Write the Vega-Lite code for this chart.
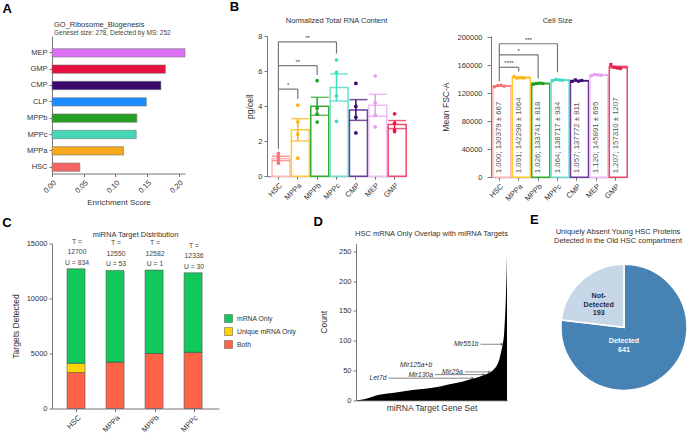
{
  "$schema": "https://vega.github.io/schema/vega-lite/v6.json",
  "background": "white",
  "padding": {"left": 2, "top": 1, "right": 0, "bottom": 0},
  "config": {
    "view": {"stroke": null},
    "font": "Liberation Sans",
    "axis": {"labelFontSize": 7.5, "labelColor": "#333", "titleFontSize": 8.5, "titleFontWeight": "normal", "titleColor": "#333", "domainColor": "#777", "tickColor": "#777", "tickSize": 3, "labelPadding": 2, "grid": false},
    "title": {"fontSize": 7.5, "fontWeight": "normal", "color": "#333", "subtitleColor": "#444"},
    "legend": {"labelFontSize": 6.8, "labelColor": "#333"}
  },
  "datasets": {
    "ribo": [
      {"cell": "MEP", "es": 0.210}, {"cell": "GMP", "es": 0.179}, {"cell": "CMP", "es": 0.172}, {"cell": "CLP", "es": 0.149},
      {"cell": "MPPb", "es": 0.134}, {"cell": "MPPc", "es": 0.133}, {"cell": "MPPa", "es": 0.113}, {"cell": "HSC", "es": 0.044}
    ],
    "rna": [
      {"cell": "HSC", "v": 1.30}, {"cell": "HSC", "v": 1.12}, {"cell": "HSC", "v": 0.90}, {"cell": "HSC", "v": 0.74},
      {"cell": "MPPa", "v": 4.05}, {"cell": "MPPa", "v": 3.10}, {"cell": "MPPa", "v": 2.40}, {"cell": "MPPa", "v": 1.03},
      {"cell": "MPPb", "v": 5.45}, {"cell": "MPPb", "v": 3.88}, {"cell": "MPPb", "v": 3.54}, {"cell": "MPPb", "v": 3.09},
      {"cell": "MPPc", "v": 6.63}, {"cell": "MPPc", "v": 5.92}, {"cell": "MPPc", "v": 4.58}, {"cell": "MPPc", "v": 3.13},
      {"cell": "CMP", "v": 5.29}, {"cell": "CMP", "v": 3.98}, {"cell": "CMP", "v": 3.37}, {"cell": "CMP", "v": 2.47},
      {"cell": "MEP", "v": 5.73}, {"cell": "MEP", "v": 4.18}, {"cell": "MEP", "v": 3.47}, {"cell": "MEP", "v": 2.81},
      {"cell": "GMP", "v": 3.56}, {"cell": "GMP", "v": 3.02}, {"cell": "GMP", "v": 2.65}, {"cell": "GMP", "v": 2.55}
    ],
    "bl_h": [{"from": "HSC", "to": "MPPa", "y": 4.97}, {"from": "HSC", "to": "MPPb", "y": 6.31}, {"from": "HSC", "to": "MPPc", "y": 7.67}],
    "bl_v": [{"cell": "HSC", "y": 7.67, "y2": 1.55}, {"cell": "MPPa", "y": 4.97, "y2": 4.41}, {"cell": "MPPb", "y": 6.31, "y2": 5.78}, {"cell": "MPPc", "y": 7.67, "y2": 7.0}],
    "bl_sg": [{"after": "HSC", "y": 4.97, "s": "*"}, {"after": "MPPa", "y": 7.67, "s": "**"}],
    "bl_sc": [{"at": "MPPa", "y": 6.31, "s": "**"}],
    "cs": [
      {"cell": "HSC", "mean": 130379, "label": "1.000; 130379 ± 667"},
      {"cell": "MPPa", "mean": 142298, "label": "1.091; 142298 ± 1064"},
      {"cell": "MPPb", "mean": 133741, "label": "1.026; 133741 ± 818"},
      {"cell": "MPPc", "mean": 138717, "label": "1.064; 138717 ± 934"},
      {"cell": "CMP", "mean": 137772, "label": "1.057; 137772 ± 811"},
      {"cell": "MEP", "mean": 145891, "label": "1.120; 145891 ± 695"},
      {"cell": "GMP", "mean": 157310, "label": "1.207; 157310 ± 1207"}
    ],
    "csp": [
      {"cell": "HSC", "rep": 1, "v": 129300}, {"cell": "HSC", "rep": 2, "v": 130800}, {"cell": "HSC", "rep": 3, "v": 131400}, {"cell": "HSC", "rep": 4, "v": 130000},
      {"cell": "MPPa", "rep": 1, "v": 143800}, {"cell": "MPPa", "rep": 2, "v": 141500}, {"cell": "MPPa", "rep": 3, "v": 142200}, {"cell": "MPPa", "rep": 4, "v": 141700},
      {"cell": "MPPb", "rep": 1, "v": 132800}, {"cell": "MPPb", "rep": 2, "v": 133900}, {"cell": "MPPb", "rep": 3, "v": 134400}, {"cell": "MPPb", "rep": 4, "v": 133860},
      {"cell": "MPPc", "rep": 1, "v": 137800}, {"cell": "MPPc", "rep": 2, "v": 139700}, {"cell": "MPPc", "rep": 3, "v": 138900}, {"cell": "MPPc", "rep": 4, "v": 138470},
      {"cell": "CMP", "rep": 1, "v": 136800}, {"cell": "CMP", "rep": 2, "v": 139000}, {"cell": "CMP", "rep": 3, "v": 137200}, {"cell": "CMP", "rep": 4, "v": 138090},
      {"cell": "MEP", "rep": 1, "v": 145000}, {"cell": "MEP", "rep": 2, "v": 146600}, {"cell": "MEP", "rep": 3, "v": 146300}, {"cell": "MEP", "rep": 4, "v": 145660},
      {"cell": "GMP", "rep": 1, "v": 161000}, {"cell": "GMP", "rep": 2, "v": 157000}, {"cell": "GMP", "rep": 3, "v": 156000}, {"cell": "GMP", "rep": 4, "v": 155240}
    ],
    "br_h": [{"from": "HSC", "to": "MPPa", "y": 157000}, {"from": "HSC", "to": "MPPb", "y": 174800}, {"from": "HSC", "to": "MPPc", "y": 190600}],
    "br_v": [{"cell": "HSC", "y": 190600, "y2": 137000}, {"cell": "MPPa", "y": 157000, "y2": 151000}, {"cell": "MPPb", "y": 174800, "y2": 141000}, {"cell": "MPPc", "y": 190600, "y2": 150000}],
    "br_sg": [{"after": "HSC", "y": 157000, "s": "****"}, {"after": "MPPa", "y": 190600, "s": "***"}],
    "br_sc": [{"at": "MPPa", "y": 174800, "s": "*"}],
    "mirna": [
      {"cell": "HSC", "grp": "Both", "n": 3270}, {"cell": "HSC", "grp": "Unique mRNA Only", "n": 834}, {"cell": "HSC", "grp": "mRNA Only", "n": 8596},
      {"cell": "MPPa", "grp": "Both", "n": 4180}, {"cell": "MPPa", "grp": "Unique mRNA Only", "n": 53}, {"cell": "MPPa", "grp": "mRNA Only", "n": 8317},
      {"cell": "MPPb", "grp": "Both", "n": 5000}, {"cell": "MPPb", "grp": "Unique mRNA Only", "n": 1}, {"cell": "MPPb", "grp": "mRNA Only", "n": 7581},
      {"cell": "MPPc", "grp": "Both", "n": 5090}, {"cell": "MPPc", "grp": "Unique mRNA Only", "n": 30}, {"cell": "MPPc", "grp": "mRNA Only", "n": 7216}
    ],
    "ctot": [
      {"cell": "HSC", "T": 12700, "label": "T =\n12700\nU = 834"},
      {"cell": "MPPa", "T": 12550, "label": "T =\n12550\nU = 53"},
      {"cell": "MPPb", "T": 12582, "label": "T =\n12582\nU = 1"},
      {"cell": "MPPc", "T": 12336, "label": "T =\n12336\nU = 30"}
    ],
    "curve": [
      {"rank": 0, "count": 0}, {"rank": 20, "count": 1}, {"rank": 40, "count": 4}, {"rank": 60, "count": 8}, {"rank": 80, "count": 10},
      {"rank": 110, "count": 12}, {"rank": 140, "count": 14.5}, {"rank": 170, "count": 17}, {"rank": 200, "count": 19}, {"rank": 230, "count": 21},
      {"rank": 260, "count": 24}, {"rank": 290, "count": 27.5}, {"rank": 320, "count": 31}, {"rank": 350, "count": 36}, {"rank": 370, "count": 39},
      {"rank": 390, "count": 43}, {"rank": 405, "count": 47}, {"rank": 415, "count": 51.5}, {"rank": 425, "count": 59}, {"rank": 432, "count": 69},
      {"rank": 438, "count": 83}, {"rank": 442, "count": 94}, {"rank": 446, "count": 110}, {"rank": 448, "count": 128}, {"rank": 450, "count": 150},
      {"rank": 452, "count": 178}, {"rank": 454, "count": 217}, {"rank": 455, "count": 245}
    ],
    "dline": [{"x1": 98, "x2": 352, "y": 37}, {"x1": 238, "x2": 385, "y": 43}, {"x1": 328, "x2": 403, "y": 47.5}, {"x1": 375, "x2": 440, "y": 94}],
    "dlab": [{"x": 95, "y": 37, "t": "Let7d"}, {"x": 233, "y": 59, "t": "Mir125a+b"}, {"x": 235, "y": 43, "t": "Mir130a"}, {"x": 325, "y": 48, "t": "Mir29a"}, {"x": 372, "y": 94, "t": "Mir551b"}],
    "pie": [{"status": "Detected", "n": 641, "label": "Detected\n641"}, {"status": "Not-Detected", "n": 193, "label": "Not-\nDetected\n193"}]
  },
  "spacing": 6.5,
  "resolve": {"scale": {"color": "independent", "stroke": "independent"}},
  "vconcat": [
    {
      "spacing": 43,
      "resolve": {"scale": {"color": "independent", "stroke": "independent"}},
      "hconcat": [
        {
          "title": {"text": "A", "anchor": "start", "fontSize": 13, "fontWeight": "bold", "color": "#000", "offset": 5.5, "dx": -24},
          "vconcat": [
            {
              "width": 133, "height": 137.5,
              "title": {"text": "GO_Ribosome_Biogenesis", "subtitle": "Geneset size: 278, Detected by MS: 252", "anchor": "start", "frame": "group", "fontSize": 7.5, "subtitleFontSize": 6.5, "subtitlePadding": 1, "offset": 0, "dx": 2},
              "data": {"name": "ribo"},
              "mark": {"type": "bar", "stroke": "#777", "strokeWidth": 0.6},
              "encoding": {
                "y": {"field": "cell", "type": "nominal", "sort": null, "scale": {"paddingInner": 0.49, "paddingOuter": 0.4525, "align": 0.855}, "axis": {"title": null}},
                "x": {"field": "es", "type": "quantitative", "scale": {"domain": [0, 0.21], "nice": false}, "axis": {"values": [0, 0.05, 0.1, 0.15, 0.2], "format": ".2f", "labelAngle": -45, "title": "Enrichment Score", "titleFontSize": 8}},
                "color": {"field": "cell", "type": "nominal", "scale": {"domain": ["MEP", "GMP", "CMP", "CLP", "MPPb", "MPPc", "MPPa", "HSC"], "range": ["#dc70f5", "#e5103f", "#3a0a6e", "#1a8cff", "#25a024", "#45d7b8", "#f5a91b", "#f56464"]}, "legend": null}
              }
            }
          ]
        },
        {
          "title": {"text": "B", "anchor": "start", "fontSize": 13, "fontWeight": "bold", "color": "#000", "offset": 3, "dx": -16},
          "spacing": 34,
          "resolve": {"scale": {"color": "independent", "stroke": "independent"}},
          "hconcat": [
            {
              "width": 139, "height": 140.2,
              "title": {"text": "Normalized Total RNA Content", "frame": "group", "offset": 7.3},
              "layer": [
                {
                  "data": {"name": "rna"},
                  "mark": {"type": "bar", "fill": "white", "strokeWidth": 1.5},
                  "encoding": {
                    "x": {"field": "cell", "type": "nominal", "scale": {"domain": ["HSC", "MPPa", "MPPb", "MPPc", "CMP", "MEP", "GMP"], "paddingInner": 0.34, "paddingOuter": 0.26}, "axis": {"title": null, "labelAngle": -45}},
                    "y": {"aggregate": "mean", "field": "v", "type": "quantitative", "scale": {"domain": [0, 8], "nice": false}, "axis": {"title": "pg/cell", "values": [0, 2, 4, 6, 8], "titlePadding": 3, "labelOverlap": false}},
                    "stroke": {"field": "cell", "type": "nominal", "scale": {"domain": ["HSC", "MPPa", "MPPb", "MPPc", "CMP", "MEP", "GMP"], "range": ["#ffb8b8", "#ffc93a", "#35ad30", "#6be2cc", "#6a3f9e", "#f1bdf7", "#f24a6c"]}, "legend": null}
                  }
                },
                {
                  "data": {"name": "rna"},
                  "mark": {"type": "errorbar", "extent": "stderr", "ticks": true, "thickness": 1.5},
                  "encoding": {
                    "x": {"field": "cell", "type": "nominal", "scale": {"domain": ["HSC", "MPPa", "MPPb", "MPPc", "CMP", "MEP", "GMP"], "paddingInner": 0.34, "paddingOuter": 0.26}, "axis": {"title": null, "labelAngle": -45}},
                    "y": {"field": "v", "type": "quantitative", "axis": {"title": "pg/cell", "values": [0, 2, 4, 6, 8], "titlePadding": 3, "labelOverlap": false}},
                    "color": {"field": "cell", "type": "nominal", "scale": {"domain": ["HSC", "MPPa", "MPPb", "MPPc", "CMP", "MEP", "GMP"], "range": ["#f87575", "#ffb416", "#27a327", "#3fdcbf", "#3c0c74", "#e79cf2", "#e81a4b"]}, "legend": null}
                  }
                },
                {
                  "data": {"name": "rna"},
                  "mark": {"type": "circle", "size": 14, "opacity": 1},
                  "encoding": {
                    "x": {"field": "cell", "type": "nominal", "scale": {"domain": ["HSC", "MPPa", "MPPb", "MPPc", "CMP", "MEP", "GMP"], "paddingInner": 0.34, "paddingOuter": 0.26}, "axis": {"title": null, "labelAngle": -45}},
                    "y": {"field": "v", "type": "quantitative", "axis": {"title": "pg/cell", "values": [0, 2, 4, 6, 8], "titlePadding": 3, "labelOverlap": false}},
                    "color": {"field": "cell", "type": "nominal", "legend": null}
                  }
                },
                {
                  "data": {"name": "bl_h"},
                  "mark": {"type": "rule", "color": "#777", "strokeWidth": 1.2},
                  "encoding": {
                    "x": {"field": "from", "type": "nominal", "bandPosition": 0.5, "scale": {"domain": ["HSC", "MPPa", "MPPb", "MPPc", "CMP", "MEP", "GMP"], "paddingInner": 0.34, "paddingOuter": 0.26}, "axis": {"title": null, "labelAngle": -45}},
                    "x2": {"field": "to", "bandPosition": 0.5},
                    "y": {"field": "y", "type": "quantitative", "axis": {"title": "pg/cell", "values": [0, 2, 4, 6, 8], "titlePadding": 3, "labelOverlap": false}}
                  }
                },
                {
                  "data": {"name": "bl_v"},
                  "mark": {"type": "rule", "color": "#777", "strokeWidth": 1.2},
                  "encoding": {
                    "x": {"field": "cell", "type": "nominal", "scale": {"domain": ["HSC", "MPPa", "MPPb", "MPPc", "CMP", "MEP", "GMP"], "paddingInner": 0.34, "paddingOuter": 0.26}, "axis": {"title": null, "labelAngle": -45}},
                    "y": {"field": "y", "type": "quantitative", "axis": {"title": "pg/cell", "values": [0, 2, 4, 6, 8], "titlePadding": 3, "labelOverlap": false}},
                    "y2": {"field": "y2"}
                  }
                },
                {
                  "data": {"name": "bl_sg"},
                  "mark": {"type": "text", "fontSize": 6, "baseline": "bottom", "dy": -1, "color": "#333"},
                  "encoding": {
                    "x": {"field": "after", "type": "nominal", "bandPosition": 1.258, "scale": {"domain": ["HSC", "MPPa", "MPPb", "MPPc", "CMP", "MEP", "GMP"], "paddingInner": 0.34, "paddingOuter": 0.26}, "axis": {"title": null, "labelAngle": -45}},
                    "y": {"field": "y", "type": "quantitative", "axis": {"title": "pg/cell", "values": [0, 2, 4, 6, 8], "titlePadding": 3, "labelOverlap": false}},
                    "text": {"field": "s"}
                  }
                },
                {
                  "data": {"name": "bl_sc"},
                  "mark": {"type": "text", "fontSize": 6, "baseline": "bottom", "dy": -1, "color": "#333"},
                  "encoding": {
                    "x": {"field": "at", "type": "nominal", "bandPosition": 0.5, "scale": {"domain": ["HSC", "MPPa", "MPPb", "MPPc", "CMP", "MEP", "GMP"], "paddingInner": 0.34, "paddingOuter": 0.26}, "axis": {"title": null, "labelAngle": -45}},
                    "y": {"field": "y", "type": "quantitative", "axis": {"title": "pg/cell", "values": [0, 2, 4, 6, 8], "titlePadding": 3, "labelOverlap": false}},
                    "text": {"field": "s"}
                  }
                }
              ]
            },
            {
              "width": 133, "height": 141.2,
              "title": {"text": "Cell Size", "frame": "group", "offset": 8.5},
              "layer": [
                {
                  "data": {"name": "cs"},
                  "mark": {"type": "bar", "fill": "white", "strokeWidth": 1.5},
                  "encoding": {
                    "x": {"field": "cell", "type": "nominal", "scale": {"domain": ["HSC", "MPPa", "MPPb", "MPPc", "CMP", "MEP", "GMP"], "paddingInner": 0.34, "paddingOuter": 0.1}, "axis": {"title": null, "labelAngle": -45}},
                    "y": {"field": "mean", "type": "quantitative", "scale": {"domain": [0, 201700], "nice": false}, "axis": {"title": "Mean FSC-A", "values": [0, 40000, 80000, 120000, 160000, 200000], "format": "d", "tickSize": 4, "labelPadding": 5, "titlePadding": 6, "labelOverlap": false}},
                    "stroke": {"field": "cell", "type": "nominal", "scale": {"domain": ["HSC", "MPPa", "MPPb", "MPPc", "CMP", "MEP", "GMP"], "range": ["#ffb0b0", "#ffc933", "#2fb02a", "#66e0cc", "#6a3d9a", "#eebbf5", "#ee4466"]}, "legend": null}
                  }
                },
                {
                  "data": {"name": "cs"},
                  "mark": {"type": "text", "angle": 270, "align": "left", "baseline": "middle", "dx": 4, "fontSize": 7.8, "color": "#555"},
                  "encoding": {
                    "x": {"field": "cell", "type": "nominal", "scale": {"domain": ["HSC", "MPPa", "MPPb", "MPPc", "CMP", "MEP", "GMP"], "paddingInner": 0.34, "paddingOuter": 0.1}, "axis": {"title": null, "labelAngle": -45}},
                    "y": {"datum": 0, "type": "quantitative", "axis": {"title": "Mean FSC-A", "values": [0, 40000, 80000, 120000, 160000, 200000], "format": "d", "tickSize": 4, "labelPadding": 5, "titlePadding": 6, "labelOverlap": false}},
                    "text": {"field": "label"}
                  }
                },
                {
                  "data": {"name": "csp"},
                  "mark": {"type": "errorbar", "extent": "stderr", "ticks": true, "thickness": 1.2},
                  "encoding": {
                    "x": {"field": "cell", "type": "nominal", "scale": {"domain": ["HSC", "MPPa", "MPPb", "MPPc", "CMP", "MEP", "GMP"], "paddingInner": 0.34, "paddingOuter": 0.1}, "axis": {"title": null, "labelAngle": -45}},
                    "y": {"field": "v", "type": "quantitative", "axis": {"title": "Mean FSC-A", "values": [0, 40000, 80000, 120000, 160000, 200000], "format": "d", "tickSize": 4, "labelPadding": 5, "titlePadding": 6, "labelOverlap": false}},
                    "color": {"field": "cell", "type": "nominal", "scale": {"domain": ["HSC", "MPPa", "MPPb", "MPPc", "CMP", "MEP", "GMP"], "range": ["#f87575", "#ffb416", "#1f9f1f", "#3fdcbf", "#3c0c74", "#e79cf2", "#e81a4b"]}, "legend": null}
                  }
                },
                {
                  "data": {"name": "csp"},
                  "mark": {"type": "square", "size": 10, "opacity": 1},
                  "encoding": {
                    "x": {"field": "cell", "type": "nominal", "scale": {"domain": ["HSC", "MPPa", "MPPb", "MPPc", "CMP", "MEP", "GMP"], "paddingInner": 0.34, "paddingOuter": 0.1}, "axis": {"title": null, "labelAngle": -45}},
                    "xOffset": {"field": "rep", "type": "nominal"},
                    "y": {"field": "v", "type": "quantitative", "axis": {"title": "Mean FSC-A", "values": [0, 40000, 80000, 120000, 160000, 200000], "format": "d", "tickSize": 4, "labelPadding": 5, "titlePadding": 6, "labelOverlap": false}},
                    "color": {"field": "cell", "type": "nominal", "legend": null}
                  }
                },
                {
                  "data": {"name": "br_h"},
                  "mark": {"type": "rule", "color": "#777", "strokeWidth": 1.2},
                  "encoding": {
                    "x": {"field": "from", "type": "nominal", "bandPosition": 0.5, "scale": {"domain": ["HSC", "MPPa", "MPPb", "MPPc", "CMP", "MEP", "GMP"], "paddingInner": 0.34, "paddingOuter": 0.1}, "axis": {"title": null, "labelAngle": -45}},
                    "x2": {"field": "to", "bandPosition": 0.5},
                    "y": {"field": "y", "type": "quantitative", "axis": {"title": "Mean FSC-A", "values": [0, 40000, 80000, 120000, 160000, 200000], "format": "d", "tickSize": 4, "labelPadding": 5, "titlePadding": 6, "labelOverlap": false}}
                  }
                },
                {
                  "data": {"name": "br_v"},
                  "mark": {"type": "rule", "color": "#777", "strokeWidth": 1.2},
                  "encoding": {
                    "x": {"field": "cell", "type": "nominal", "scale": {"domain": ["HSC", "MPPa", "MPPb", "MPPc", "CMP", "MEP", "GMP"], "paddingInner": 0.34, "paddingOuter": 0.1}, "axis": {"title": null, "labelAngle": -45}},
                    "y": {"field": "y", "type": "quantitative", "axis": {"title": "Mean FSC-A", "values": [0, 40000, 80000, 120000, 160000, 200000], "format": "d", "tickSize": 4, "labelPadding": 5, "titlePadding": 6, "labelOverlap": false}},
                    "y2": {"field": "y2"}
                  }
                },
                {
                  "data": {"name": "br_sg"},
                  "mark": {"type": "text", "fontSize": 6, "baseline": "bottom", "dy": -1, "color": "#333"},
                  "encoding": {
                    "x": {"field": "after", "type": "nominal", "bandPosition": 1.258, "scale": {"domain": ["HSC", "MPPa", "MPPb", "MPPc", "CMP", "MEP", "GMP"], "paddingInner": 0.34, "paddingOuter": 0.1}, "axis": {"title": null, "labelAngle": -45}},
                    "y": {"field": "y", "type": "quantitative", "axis": {"title": "Mean FSC-A", "values": [0, 40000, 80000, 120000, 160000, 200000], "format": "d", "tickSize": 4, "labelPadding": 5, "titlePadding": 6, "labelOverlap": false}},
                    "text": {"field": "s"}
                  }
                },
                {
                  "data": {"name": "br_sc"},
                  "mark": {"type": "text", "fontSize": 6, "baseline": "bottom", "dy": -1, "color": "#333"},
                  "encoding": {
                    "x": {"field": "at", "type": "nominal", "bandPosition": 0.5, "scale": {"domain": ["HSC", "MPPa", "MPPb", "MPPc", "CMP", "MEP", "GMP"], "paddingInner": 0.34, "paddingOuter": 0.1}, "axis": {"title": null, "labelAngle": -45}},
                    "y": {"field": "y", "type": "quantitative", "axis": {"title": "Mean FSC-A", "values": [0, 40000, 80000, 120000, 160000, 200000], "format": "d", "tickSize": 4, "labelPadding": 5, "titlePadding": 6, "labelOverlap": false}},
                    "text": {"field": "s"}
                  }
                }
              ]
            }
          ]
        }
      ]
    },
    {
      "spacing": 16,
      "resolve": {"scale": {"color": "independent", "stroke": "independent"}},
      "hconcat": [
        {
          "title": {"text": "C", "anchor": "start", "fontSize": 13, "fontWeight": "bold", "color": "#000", "offset": 1.5, "dx": -9},
          "vconcat": [
            {
              "width": 167, "height": 165,
              "title": {"text": "miRNA Target Distribution", "frame": "group", "offset": 0},
              "layer": [
                {
                  "data": {"name": "mirna"},
                  "mark": {"type": "bar", "stroke": "#555", "strokeWidth": 0.6},
                  "encoding": {
                    "x": {"field": "cell", "type": "nominal", "scale": {"domain": ["HSC", "MPPa", "MPPb", "MPPc"], "paddingInner": 0.49, "paddingOuter": 0.385}, "axis": {"title": null, "labelAngle": -45}},
                    "y": {"field": "n", "type": "quantitative", "stack": "zero", "scale": {"domain": [0, 15000], "nice": false}, "axis": {"title": "Targets Detected", "values": [0, 5000, 10000, 15000], "format": "d", "titlePadding": 6, "labelOverlap": false}},
                    "order": {"field": "grp", "type": "nominal", "sort": "ascending"},
                    "color": {"field": "grp", "type": "nominal", "scale": {"domain": ["mRNA Only", "Unique mRNA Only", "Both"], "range": ["#10c95a", "#ffd500", "#ff6347"]}, "legend": {"title": null, "orient": "none", "legendX": 172, "legendY": 70.5, "padding": 0, "symbolType": "square", "symbolSize": 64, "symbolStrokeColor": "#555", "symbolStrokeWidth": 0.5, "symbolOpacity": 1, "rowPadding": 2, "labelOffset": 4}}
                  }
                },
                {
                  "data": {"name": "ctot"},
                  "mark": {"type": "text", "baseline": "bottom", "dy": -24, "fontSize": 6.8, "color": "#444", "lineBreak": "\n", "lineHeight": 10.5},
                  "encoding": {
                    "x": {"field": "cell", "type": "nominal", "scale": {"domain": ["HSC", "MPPa", "MPPb", "MPPc"], "paddingInner": 0.49, "paddingOuter": 0.385}, "axis": {"title": null, "labelAngle": -45}},
                    "y": {"field": "T", "type": "quantitative", "axis": {"title": "Targets Detected", "values": [0, 5000, 10000, 15000], "format": "d", "titlePadding": 6, "labelOverlap": false}},
                    "text": {"field": "label"}
                  }
                }
              ]
            }
          ]
        },
        {
          "spacing": 21,
          "resolve": {"scale": {"color": "independent", "stroke": "independent"}},
          "hconcat": [
            {
              "title": {"text": "D", "anchor": "start", "fontSize": 13, "fontWeight": "bold", "color": "#000", "offset": 1, "dx": -6},
              "vconcat": [
                {
                  "width": 151, "height": 156.7,
                  "title": {"text": "HSC mRNA Only Overlap with miRNA Targets", "frame": "group", "offset": 5.9},
                  "layer": [
                    {
                      "data": {"name": "curve"},
                      "mark": {"type": "area", "color": "black", "interpolate": "monotone"},
                      "encoding": {
                        "x": {"field": "rank", "type": "quantitative", "scale": {"domain": [0, 455], "nice": false}, "axis": {"title": "miRNA Target Gene Set", "labels": false, "ticks": false, "titlePadding": 3, "domainColor": "#333"}},
                        "y": {"field": "count", "type": "quantitative", "scale": {"domain": [0, 263.3], "nice": false}, "axis": {"title": "Count", "values": [0, 50, 100, 150, 200, 250], "titlePadding": 10, "labelOverlap": false}}
                      }
                    },
                    {
                      "data": {"name": "dline"},
                      "mark": {"type": "rule", "color": "#555", "strokeWidth": 0.7},
                      "encoding": {
                        "x": {"field": "x1", "type": "quantitative", "axis": {"title": "miRNA Target Gene Set", "labels": false, "ticks": false, "titlePadding": 3, "domainColor": "#333"}},
                        "x2": {"field": "x2"},
                        "y": {"field": "y", "type": "quantitative", "axis": {"title": "Count", "values": [0, 50, 100, 150, 200, 250], "titlePadding": 10, "labelOverlap": false}}
                      }
                    },
                    {
                      "data": {"name": "dline"},
                      "mark": {"type": "point", "shape": "triangle-right", "size": 8, "filled": true, "color": "#555", "opacity": 1},
                      "encoding": {
                        "x": {"field": "x2", "type": "quantitative", "axis": {"title": "miRNA Target Gene Set", "labels": false, "ticks": false, "titlePadding": 3, "domainColor": "#333"}},
                        "y": {"field": "y", "type": "quantitative", "axis": {"title": "Count", "values": [0, 50, 100, 150, 200, 250], "titlePadding": 10, "labelOverlap": false}}
                      }
                    },
                    {
                      "data": {"name": "dlab"},
                      "mark": {"type": "text", "align": "right", "baseline": "middle", "dx": -1, "fontSize": 6.8, "fontStyle": "italic", "color": "#333"},
                      "encoding": {
                        "x": {"field": "x", "type": "quantitative", "axis": {"title": "miRNA Target Gene Set", "labels": false, "ticks": false, "titlePadding": 3, "domainColor": "#333"}},
                        "y": {"field": "y", "type": "quantitative", "axis": {"title": "Count", "values": [0, 50, 100, 150, 200, 250], "titlePadding": 10, "labelOverlap": false}},
                        "text": {"field": "t"}
                      }
                    }
                  ]
                }
              ]
            },
            {
              "title": {"text": "E", "anchor": "start", "fontSize": 13, "fontWeight": "bold", "color": "#000", "offset": 1, "dx": -24},
              "vconcat": [
                {
                  "width": 126, "height": 167.7,
                  "title": {"text": ["Uniquely Absent Young HSC Proteins", "Detected in the Old HSC compartment"], "frame": "group", "lineHeight": 8.6, "offset": -1, "dx": -6},
                  "data": {"name": "pie"},
                  "layer": [
                    {
                      "mark": {"type": "arc", "outerRadius": 63, "stroke": "white", "strokeWidth": 1.5},
                      "encoding": {
                        "theta": {"field": "n", "type": "quantitative", "stack": true},
                        "color": {"field": "status", "type": "nominal", "scale": {"domain": ["Detected", "Not-Detected"], "range": ["#4682b4", "#c8d7e8"]}, "legend": null}
                      }
                    },
                    {
                      "mark": {"type": "text", "radius": 24.5, "dx": -16.3, "dy": -4.25, "fontSize": 7.2, "fontWeight": "bold", "lineBreak": "\n", "lineHeight": 8.5, "color": "white"},
                      "encoding": {
                        "theta": {"field": "n", "type": "quantitative", "stack": true},
                        "detail": {"field": "status", "type": "nominal"},
                        "text": {"condition": {"test": "datum.status === 'Detected'", "field": "label"}, "value": ""}
                      }
                    },
                    {
                      "mark": {"type": "text", "radius": 30, "dx": -5.3, "dy": -8.5, "fontSize": 7.2, "fontWeight": "bold", "lineBreak": "\n", "lineHeight": 8.5, "color": "#1b2a45"},
                      "encoding": {
                        "theta": {"field": "n", "type": "quantitative", "stack": true},
                        "detail": {"field": "status", "type": "nominal"},
                        "text": {"condition": {"test": "datum.status === 'Not-Detected'", "field": "label"}, "value": ""}
                      }
                    }
                  ]
                }
              ]
            }
          ]
        }
      ]
    }
  ]
}
